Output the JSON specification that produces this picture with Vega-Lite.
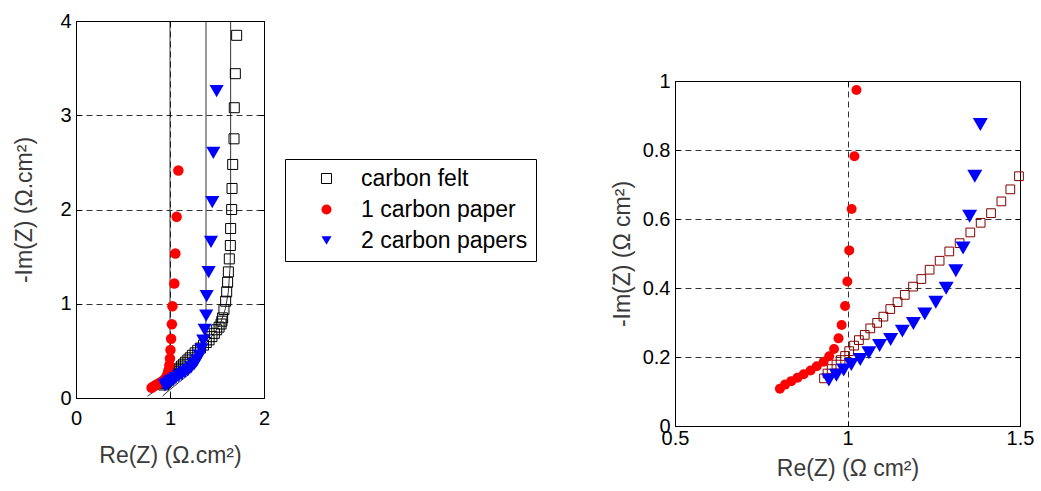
{
  "$schema": "https://vega.github.io/schema/vega-lite/v6.json",
  "background": "white",
  "padding": {"left": 13, "top": 10, "right": 0, "bottom": 0},
  "config": {
    "font": "Liberation Sans",
    "view": {"stroke": "black", "strokeWidth": 1},
    "axis": {
      "labelFont": "Liberation Sans", "labelFontSize": 20, "labelColor": "black", "labelFlush": false,
      "titleFont": "Liberation Sans", "titleFontSize": 23, "titleColor": "#3a3a3a", "titleFontWeight": "normal",
      "tickColor": "black", "tickSize": -5, "tickWidth": 1,
      "domain": false,
      "gridColor": "black", "gridDash": [6, 4], "gridWidth": 0.8, "gridOpacity": 1,
      "format": "~g"
    }
  },
  "datasets": {
    "pts": [
      {"s": "carbon felt", "x": 0.932, "y": 0.138}, {"s": "carbon felt", "x": 0.942, "y": 0.152}, {"s": "carbon felt", "x": 0.954, "y": 0.165},
      {"s": "carbon felt", "x": 0.968, "y": 0.178}, {"s": "carbon felt", "x": 0.980, "y": 0.191}, {"s": "carbon felt", "x": 0.993, "y": 0.203},
      {"s": "carbon felt", "x": 1.005, "y": 0.217}, {"s": "carbon felt", "x": 1.019, "y": 0.233}, {"s": "carbon felt", "x": 1.033, "y": 0.249},
      {"s": "carbon felt", "x": 1.050, "y": 0.264}, {"s": "carbon felt", "x": 1.066, "y": 0.283}, {"s": "carbon felt", "x": 1.086, "y": 0.299},
      {"s": "carbon felt", "x": 1.104, "y": 0.317}, {"s": "carbon felt", "x": 1.124, "y": 0.339}, {"s": "carbon felt", "x": 1.145, "y": 0.359},
      {"s": "carbon felt", "x": 1.166, "y": 0.380}, {"s": "carbon felt", "x": 1.190, "y": 0.404}, {"s": "carbon felt", "x": 1.214, "y": 0.426},
      {"s": "carbon felt", "x": 1.238, "y": 0.453}, {"s": "carbon felt", "x": 1.267, "y": 0.479}, {"s": "carbon felt", "x": 1.295, "y": 0.506},
      {"s": "carbon felt", "x": 1.325, "y": 0.530}, {"s": "carbon felt", "x": 1.356, "y": 0.561}, {"s": "carbon felt", "x": 1.386, "y": 0.589},
      {"s": "carbon felt", "x": 1.416, "y": 0.617}, {"s": "carbon felt", "x": 1.446, "y": 0.651}, {"s": "carbon felt", "x": 1.472, "y": 0.686},
      {"s": "carbon felt", "x": 1.497, "y": 0.724}, {"s": "carbon felt", "x": 1.522, "y": 0.752}, {"s": "carbon felt", "x": 1.543, "y": 0.785},
      {"s": "carbon felt", "x": 1.552, "y": 0.815}, {"s": "carbon felt", "x": 1.560, "y": 0.850}, {"s": "carbon felt", "x": 1.574, "y": 0.938},
      {"s": "carbon felt", "x": 1.592, "y": 1.027}, {"s": "carbon felt", "x": 1.603, "y": 1.126}, {"s": "carbon felt", "x": 1.613, "y": 1.228},
      {"s": "carbon felt", "x": 1.621, "y": 1.338}, {"s": "carbon felt", "x": 1.631, "y": 1.476}, {"s": "carbon felt", "x": 1.642, "y": 1.618},
      {"s": "carbon felt", "x": 1.645, "y": 1.798}, {"s": "carbon felt", "x": 1.656, "y": 2.0}, {"s": "carbon felt", "x": 1.660, "y": 2.223},
      {"s": "carbon felt", "x": 1.667, "y": 2.478}, {"s": "carbon felt", "x": 1.681, "y": 2.750}, {"s": "carbon felt", "x": 1.684, "y": 3.080},
      {"s": "carbon felt", "x": 1.695, "y": 3.441}, {"s": "carbon felt", "x": 1.709, "y": 3.848},
      {"s": "1 carbon paper", "x": 0.804, "y": 0.108}, {"s": "1 carbon paper", "x": 0.819, "y": 0.120}, {"s": "1 carbon paper", "x": 0.837, "y": 0.130},
      {"s": "1 carbon paper", "x": 0.855, "y": 0.140}, {"s": "1 carbon paper", "x": 0.873, "y": 0.150}, {"s": "1 carbon paper", "x": 0.893, "y": 0.161},
      {"s": "1 carbon paper", "x": 0.911, "y": 0.173}, {"s": "1 carbon paper", "x": 0.931, "y": 0.186}, {"s": "1 carbon paper", "x": 0.947, "y": 0.202},
      {"s": "1 carbon paper", "x": 0.961, "y": 0.223}, {"s": "1 carbon paper", "x": 0.974, "y": 0.254}, {"s": "1 carbon paper", "x": 0.983, "y": 0.293},
      {"s": "1 carbon paper", "x": 0.993, "y": 0.348}, {"s": "1 carbon paper", "x": 0.9995, "y": 0.419}, {"s": "1 carbon paper", "x": 1.005, "y": 0.509},
      {"s": "1 carbon paper", "x": 1.012, "y": 0.629}, {"s": "1 carbon paper", "x": 1.020, "y": 0.782}, {"s": "1 carbon paper", "x": 1.026, "y": 0.974},
      {"s": "1 carbon paper", "x": 1.046, "y": 1.214}, {"s": "1 carbon paper", "x": 1.057, "y": 1.533}, {"s": "1 carbon paper", "x": 1.071, "y": 1.922},
      {"s": "1 carbon paper", "x": 1.089, "y": 2.414},
      {"s": "2 carbon papers", "x": 0.946, "y": 0.133}, {"s": "2 carbon papers", "x": 0.968, "y": 0.147}, {"s": "2 carbon papers", "x": 0.989, "y": 0.162},
      {"s": "2 carbon papers", "x": 1.011, "y": 0.178}, {"s": "2 carbon papers", "x": 1.037, "y": 0.193}, {"s": "2 carbon papers", "x": 1.062, "y": 0.212},
      {"s": "2 carbon papers", "x": 1.093, "y": 0.233}, {"s": "2 carbon papers", "x": 1.125, "y": 0.251}, {"s": "2 carbon papers", "x": 1.159, "y": 0.275},
      {"s": "2 carbon papers", "x": 1.191, "y": 0.297}, {"s": "2 carbon papers", "x": 1.224, "y": 0.325}, {"s": "2 carbon papers", "x": 1.256, "y": 0.359},
      {"s": "2 carbon papers", "x": 1.286, "y": 0.399}, {"s": "2 carbon papers", "x": 1.314, "y": 0.450}, {"s": "2 carbon papers", "x": 1.335, "y": 0.516},
      {"s": "2 carbon papers", "x": 1.354, "y": 0.608}, {"s": "2 carbon papers", "x": 1.369, "y": 0.724}, {"s": "2 carbon papers", "x": 1.385, "y": 0.874},
      {"s": "2 carbon papers", "x": 1.390, "y": 1.080}, {"s": "2 carbon papers", "x": 1.411, "y": 1.335}, {"s": "2 carbon papers", "x": 1.436, "y": 1.657},
      {"s": "2 carbon papers", "x": 1.450, "y": 2.078}, {"s": "2 carbon papers", "x": 1.461, "y": 2.602}, {"s": "2 carbon papers", "x": 1.496, "y": 3.257}
    ],
    "fit": [
      {"f": "a", "i": 1, "x": 0.76, "y": 0.02}, {"f": "a", "i": 2, "x": 0.82, "y": 0.06}, {"f": "a", "i": 3, "x": 0.88, "y": 0.11},
      {"f": "a", "i": 4, "x": 0.93, "y": 0.16}, {"f": "a", "i": 5, "x": 0.97, "y": 0.22}, {"f": "a", "i": 6, "x": 0.99, "y": 0.3},
      {"f": "a", "i": 7, "x": 1.0, "y": 0.42}, {"f": "a", "i": 8, "x": 1.0, "y": 4.0},
      {"f": "b", "i": 1, "x": 0.92, "y": 0.02}, {"f": "b", "i": 2, "x": 1.0, "y": 0.09}, {"f": "b", "i": 3, "x": 1.1, "y": 0.17},
      {"f": "b", "i": 4, "x": 1.2, "y": 0.25}, {"f": "b", "i": 5, "x": 1.28, "y": 0.33}, {"f": "b", "i": 6, "x": 1.33, "y": 0.42},
      {"f": "b", "i": 7, "x": 1.36, "y": 0.52}, {"f": "b", "i": 8, "x": 1.375, "y": 0.65}, {"f": "b", "i": 9, "x": 1.383, "y": 0.85},
      {"f": "b", "i": 10, "x": 1.383, "y": 4.0},
      {"f": "c", "i": 1, "x": 0.93, "y": 0.13}, {"f": "c", "i": 2, "x": 1.0, "y": 0.19}, {"f": "c", "i": 3, "x": 1.1, "y": 0.29},
      {"f": "c", "i": 4, "x": 1.2, "y": 0.39}, {"f": "c", "i": 5, "x": 1.3, "y": 0.49}, {"f": "c", "i": 6, "x": 1.4, "y": 0.6},
      {"f": "c", "i": 7, "x": 1.48, "y": 0.7}, {"f": "c", "i": 8, "x": 1.54, "y": 0.8}, {"f": "c", "i": 9, "x": 1.59, "y": 0.95},
      {"f": "c", "i": 10, "x": 1.62, "y": 1.12}, {"f": "c", "i": 11, "x": 1.64, "y": 1.4}, {"f": "c", "i": 12, "x": 1.645, "y": 1.8},
      {"f": "c", "i": 13, "x": 1.645, "y": 4.0}
    ]
  },
  "spacing": 73,
  "resolve": {"scale": {"x": "independent", "y": "independent", "shape": "independent", "fill": "independent", "stroke": "independent"}, "legend": {"shape": "independent", "fill": "independent", "stroke": "independent"}},
  "hconcat": [
    {
      "width": 188,
      "height": 377,
      "layer": [
        {
          "data": {"name": "fit"},
          "mark": {"type": "line", "color": "black", "strokeWidth": 0.8},
          "encoding": {
            "x": {"field": "x", "type": "quantitative", "scale": {"domain": [0, 2], "nice": false, "zero": false},
                  "axis": {"orient": "bottom", "values": [0, 1, 2], "grid": true, "title": "Re(Z) (Ω.cm²)", "labelPadding": 15, "titlePadding": 16}},
            "y": {"field": "y", "type": "quantitative", "scale": {"domain": [0, 4], "nice": false},
                  "axis": {"orient": "left", "values": [0, 1, 2, 3, 4], "grid": true, "title": "-Im(Z) (Ω.cm²)", "labelPadding": 10, "titlePadding": 23}},
            "detail": {"field": "f", "type": "nominal"},
            "order": {"field": "i", "type": "quantitative"}
          }
        },
        {
          "data": {"name": "pts"},
          "transform": [{"filter": "datum.s == 'carbon felt'"}],
          "mark": {"type": "point", "opacity": 1, "strokeWidth": 1, "size": 100},
          "encoding": {
            "x": {"field": "x", "type": "quantitative", "axis": {"orient": "top", "values": [0, 1, 2], "labels": false, "title": null, "grid": false}},
            "y": {"field": "y", "type": "quantitative", "axis": {"orient": "right", "values": [0, 1, 2, 3, 4], "labels": false, "title": null, "grid": false}},
            "shape": {"field": "s", "type": "nominal", "scale": {"domain": ["carbon felt", "1 carbon paper", "2 carbon papers"], "range": ["square", "circle", "triangle-down"]},
                      "legend": {"orient": "none", "legendX": 209, "legendY": 138, "title": null, "labelFontSize": 23, "labelFont": "Liberation Sans", "labelColor": "black",
                                 "strokeColor": "black", "fillColor": "white", "padding": 8, "rowPadding": 7, "symbolSize": 100, "symbolOffset": 22, "labelOffset": 23, "labelLimit": 400, "symbolStrokeWidth": 1}},
            "fill": {"field": "s", "type": "nominal", "scale": {"domain": ["carbon felt", "1 carbon paper", "2 carbon papers"], "range": ["transparent", "#ff0000", "#0000ff"]}},
            "stroke": {"field": "s", "type": "nominal", "scale": {"domain": ["carbon felt", "1 carbon paper", "2 carbon papers"], "range": ["black", "transparent", "transparent"]}}
          }
        },
        {
          "data": {"name": "pts"},
          "transform": [{"filter": "datum.s == '1 carbon paper'"}],
          "mark": {"type": "point", "opacity": 1, "strokeWidth": 1, "size": 110},
          "encoding": {
            "x": {"field": "x", "type": "quantitative", "axis": null},
            "y": {"field": "y", "type": "quantitative", "axis": null},
            "shape": {"field": "s", "type": "nominal", "scale": {"domain": ["carbon felt", "1 carbon paper", "2 carbon papers"], "range": ["square", "circle", "triangle-down"]}},
            "fill": {"field": "s", "type": "nominal", "scale": {"domain": ["carbon felt", "1 carbon paper", "2 carbon papers"], "range": ["transparent", "#ff0000", "#0000ff"]}},
            "stroke": {"field": "s", "type": "nominal", "scale": {"domain": ["carbon felt", "1 carbon paper", "2 carbon papers"], "range": ["black", "transparent", "transparent"]}}
          }
        },
        {
          "data": {"name": "pts"},
          "transform": [{"filter": "datum.s == '2 carbon papers'"}],
          "mark": {"type": "point", "opacity": 1, "strokeWidth": 1, "size": 200},
          "encoding": {
            "x": {"field": "x", "type": "quantitative", "axis": null},
            "y": {"field": "y", "type": "quantitative", "axis": null},
            "shape": {"field": "s", "type": "nominal", "scale": {"domain": ["carbon felt", "1 carbon paper", "2 carbon papers"], "range": ["square", "circle", "triangle-down"]}},
            "fill": {"field": "s", "type": "nominal", "scale": {"domain": ["carbon felt", "1 carbon paper", "2 carbon papers"], "range": ["transparent", "#ff0000", "#0000ff"]}},
            "stroke": {"field": "s", "type": "nominal", "scale": {"domain": ["carbon felt", "1 carbon paper", "2 carbon papers"], "range": ["black", "transparent", "transparent"]}}
          }
        }
      ],
      "resolve": {"axis": {"x": "independent", "y": "independent"}}
    },
    {
      "spacing": 0,
      "vconcat": [
        {
          "width": 345,
          "height": 49,
          "data": {"values": []},
          "mark": {"type": "point", "opacity": 0},
          "view": {"stroke": null}
        },
        {
          "width": 345,
          "height": 345,
          "layer": [
            {
              "data": {"name": "pts"},
              "transform": [{"filter": "datum.x <= 1.5 && datum.y <= 1 && datum.s == 'carbon felt'"}],
              "mark": {"type": "point", "opacity": 1, "strokeWidth": 1, "size": 76, "shape": "square", "fill": "transparent", "stroke": "#800000"},
              "encoding": {
                "x": {"field": "x", "type": "quantitative", "scale": {"domain": [0.5, 1.5], "nice": false, "zero": false},
                      "axis": {"orient": "bottom", "values": [0.5, 1, 1.5], "grid": true, "title": "Re(Z) (Ω cm²)", "labelPadding": 7, "titlePadding": 9}},
                "y": {"field": "y", "type": "quantitative", "scale": {"domain": [0, 1], "nice": false, "zero": false},
                      "axis": {"orient": "left", "values": [0, 0.2, 0.4, 0.6, 0.8, 1], "grid": true, "title": "-Im(Z) (Ω cm²)", "labelPadding": 10, "titlePadding": 8}}
              }
            },
            {
              "data": {"name": "pts"},
              "transform": [{"filter": "datum.x <= 1.5 && datum.y <= 1 && datum.s == '1 carbon paper'"}],
              "mark": {"type": "point", "opacity": 1, "strokeWidth": 0, "size": 100, "shape": "circle", "filled": true, "fill": "#ff0000"},
              "encoding": {
                "x": {"field": "x", "type": "quantitative", "axis": {"orient": "top", "values": [0.5, 1, 1.5], "labels": false, "title": null, "grid": false}},
                "y": {"field": "y", "type": "quantitative", "axis": {"orient": "right", "values": [0, 0.2, 0.4, 0.6, 0.8, 1], "labels": false, "title": null, "grid": false}}
              }
            },
            {
              "data": {"name": "pts"},
              "transform": [{"filter": "datum.x <= 1.5 && datum.y <= 1 && datum.s == '2 carbon papers'"}],
              "mark": {"type": "point", "opacity": 1, "strokeWidth": 0, "size": 225, "shape": "triangle-down", "filled": true, "fill": "#0000ff"},
              "encoding": {
                "x": {"field": "x", "type": "quantitative", "axis": null},
                "y": {"field": "y", "type": "quantitative", "axis": null}
              }
            }
          ],
          "resolve": {"axis": {"x": "independent", "y": "independent"}}
        }
      ]
    }
  ]
}
